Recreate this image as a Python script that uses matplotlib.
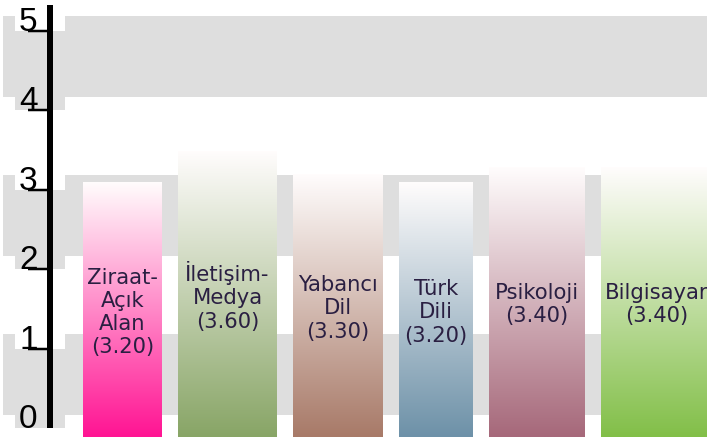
import numpy as np
import matplotlib
matplotlib.use("Agg")
import matplotlib.pyplot as plt
from matplotlib.colors import to_rgb

# ---- data ----
categories = ["Ziraat-\nAçık\nAlan", "İletişim-\nMedya", "Yabancı\nDil", "Türk\nDili", "Psikoloji", "Bilgisayar"]
values = [3.20, 3.60, 3.30, 3.20, 3.40, 3.40]
y_ticks = [0, 1, 2, 3, 4, 5]

# ---- style ----
bar_colors = ["#ff1493", "#88a566", "#a87a68", "#6d91a8", "#a6687a", "#82bf48"]
bar_widths = [79, 99, 90, 74, 96, 111]   # pixels
bar_gap = 16
first_left = 83
px_per_unit = 79.4
zero_px = 428            # pixel row of value 0
H, W = 440, 707
bar_base = -9 / px_per_unit
band_color = "#dedede"
text_color = "#2a1f42"

fig = plt.figure(figsize=(W / 100, H / 100), dpi=100)
ax = fig.add_axes([0, 0, 1, 1])
ax.set_axis_off()

# alternating bands (offset main band + aligned label-column band)
for i in (0, 2, 4):
    lo, hi = i + 0.165, i + 1.19
    ax.fill_between([3, 15], lo, hi, color=band_color, lw=0, zorder=0)
    ax.fill_between([65, W], lo, hi, color=band_color, lw=0, zorder=0)
    ax.fill_between([15, 65], i, i + 1, color=band_color, lw=0, zorder=0)

# bars with vertical gradient to white
left = first_left
for cat, v, c, w in zip(categories, values, bar_colors, bar_widths):
    rgb = np.array(to_rgb(c))
    t = np.linspace(0, 1, 256)[:, None]
    grad = (1 - t) * rgb + t * np.array([1.0, 0.99, 0.99])
    img = grad[:, None, :]
    ax.imshow(img, extent=[left, left + w, bar_base, bar_base + v],
              origin="lower", aspect="auto", interpolation="bilinear", zorder=2)
    ax.text(left + w / 2, bar_base + v / 2 - 0.03, f"{cat}\n({v:.2f})",
            ha="center", va="center", multialignment="center",
            fontsize=15.2, color=text_color, linespacing=1.2,
            family="DejaVu Sans", zorder=3)
    left += w + bar_gap

# axis line, ticks and tick labels
ax.plot([49.5, 49.5], [0, 5.33], color="black", lw=6 * 0.72,
        solid_capstyle="butt", zorder=4)
for t in y_ticks:
    if t > 0:
        ax.plot([28, 47], [t, t], color="black", lw=2.5 * 0.72,
                solid_capstyle="butt", zorder=4)
    ax.text(37.5, t, str(t), ha="right", va="baseline", fontsize=24,
            family="Liberation Sans", color="black", zorder=5)

ax.set_xlim(0, W)
ax.set_ylim((zero_px - H) / px_per_unit, zero_px / px_per_unit)

fig.savefig("out.png", dpi=100)
